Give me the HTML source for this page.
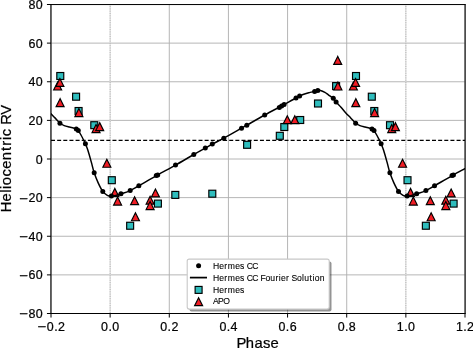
<!DOCTYPE html>
<html><head><meta charset="utf-8"><title>RV curve</title>
<style>html,body{margin:0;padding:0;background:#fff;width:473px;height:348px;overflow:hidden}
body{position:relative}</style></head>
<body>
<svg width="473" height="348" viewBox="0 0 473 348" style="position:absolute;left:0;top:0;will-change:transform">
<defs><clipPath id="ax"><rect x="51.00" y="4.50" width="414.00" height="309.00"/></clipPath></defs>
<path d="M51.00,4.50V313.50M169.29,4.50V313.50M228.43,4.50V313.50M287.57,4.50V313.50M346.71,4.50V313.50M465.00,4.50V313.50M51.00,4.50H465.00M51.00,43.12H465.00M51.00,81.75H465.00M51.00,120.38H465.00M51.00,159.00H465.00M51.00,197.62H465.00M51.00,236.25H465.00M51.00,274.88H465.00M51.00,313.50H465.00" stroke="#b0b0b0" stroke-width="0.93" fill="none"/>
<path d="M110.14,4.50V313.50M405.86,4.50V313.50" stroke="#dcdcdc" stroke-width="1.0" fill="none"/>
<path d="M110.14,4.50V313.50M405.86,4.50V313.50" stroke="#b4b4b4" stroke-width="1.0" stroke-dasharray="1.15 1.15" stroke-dashoffset="0.78" fill="none"/>
<g clip-path="url(#ax)">
<path d="M51.00,140.30H465.00" stroke="#000" stroke-width="1.16" stroke-dasharray="4.0 2.145" fill="none"/>
<rect x="108.32" y="176.72" width="6.96" height="6.96" fill="#2fbdbd" stroke="#000" stroke-width="1.16"/>
<rect x="404.03" y="176.72" width="6.96" height="6.96" fill="#2fbdbd" stroke="#000" stroke-width="1.16"/>
<rect x="126.67" y="222.27" width="6.96" height="6.96" fill="#2fbdbd" stroke="#000" stroke-width="1.16"/>
<rect x="422.38" y="222.27" width="6.96" height="6.96" fill="#2fbdbd" stroke="#000" stroke-width="1.16"/>
<rect x="154.42" y="200.12" width="6.96" height="6.96" fill="#2fbdbd" stroke="#000" stroke-width="1.16"/>
<rect x="450.13" y="200.12" width="6.96" height="6.96" fill="#2fbdbd" stroke="#000" stroke-width="1.16"/>
<rect x="171.82" y="191.42" width="6.96" height="6.96" fill="#2fbdbd" stroke="#000" stroke-width="1.16"/>
<rect x="208.82" y="190.22" width="6.96" height="6.96" fill="#2fbdbd" stroke="#000" stroke-width="1.16"/>
<rect x="243.62" y="141.32" width="6.96" height="6.96" fill="#2fbdbd" stroke="#000" stroke-width="1.16"/>
<rect x="276.32" y="132.32" width="6.96" height="6.96" fill="#2fbdbd" stroke="#000" stroke-width="1.16"/>
<rect x="280.82" y="123.52" width="6.96" height="6.96" fill="#2fbdbd" stroke="#000" stroke-width="1.16"/>
<rect x="296.72" y="116.52" width="6.96" height="6.96" fill="#2fbdbd" stroke="#000" stroke-width="1.16"/>
<rect x="314.52" y="100.02" width="6.96" height="6.96" fill="#2fbdbd" stroke="#000" stroke-width="1.16"/>
<rect x="332.62" y="82.62" width="6.96" height="6.96" fill="#2fbdbd" stroke="#000" stroke-width="1.16"/>
<rect x="56.81" y="72.52" width="6.96" height="6.96" fill="#2fbdbd" stroke="#000" stroke-width="1.16"/>
<rect x="352.52" y="72.52" width="6.96" height="6.96" fill="#2fbdbd" stroke="#000" stroke-width="1.16"/>
<rect x="72.61" y="93.22" width="6.96" height="6.96" fill="#2fbdbd" stroke="#000" stroke-width="1.16"/>
<rect x="368.32" y="93.22" width="6.96" height="6.96" fill="#2fbdbd" stroke="#000" stroke-width="1.16"/>
<rect x="75.11" y="107.52" width="6.96" height="6.96" fill="#2fbdbd" stroke="#000" stroke-width="1.16"/>
<rect x="370.82" y="107.52" width="6.96" height="6.96" fill="#2fbdbd" stroke="#000" stroke-width="1.16"/>
<rect x="90.81" y="121.72" width="6.96" height="6.96" fill="#2fbdbd" stroke="#000" stroke-width="1.16"/>
<rect x="386.52" y="121.72" width="6.96" height="6.96" fill="#2fbdbd" stroke="#000" stroke-width="1.16"/>
<path d="M57.64,82.00L53.64,90.00L61.64,90.00Z" fill="#f01c24" stroke="#000" stroke-width="1.16" stroke-linejoin="miter"/>
<path d="M353.35,82.00L349.35,90.00L357.35,90.00Z" fill="#f01c24" stroke="#000" stroke-width="1.16" stroke-linejoin="miter"/>
<path d="M59.89,78.45L55.89,86.45L63.89,86.45Z" fill="#f01c24" stroke="#000" stroke-width="1.16" stroke-linejoin="miter"/>
<path d="M355.60,78.45L351.60,86.45L359.60,86.45Z" fill="#f01c24" stroke="#000" stroke-width="1.16" stroke-linejoin="miter"/>
<path d="M60.09,98.65L56.09,106.65L64.09,106.65Z" fill="#f01c24" stroke="#000" stroke-width="1.16" stroke-linejoin="miter"/>
<path d="M355.80,98.65L351.80,106.65L359.80,106.65Z" fill="#f01c24" stroke="#000" stroke-width="1.16" stroke-linejoin="miter"/>
<path d="M78.89,108.55L74.89,116.55L82.89,116.55Z" fill="#f01c24" stroke="#000" stroke-width="1.16" stroke-linejoin="miter"/>
<path d="M374.60,108.55L370.60,116.55L378.60,116.55Z" fill="#f01c24" stroke="#000" stroke-width="1.16" stroke-linejoin="miter"/>
<path d="M96.04,124.60L92.04,132.60L100.04,132.60Z" fill="#f01c24" stroke="#000" stroke-width="1.16" stroke-linejoin="miter"/>
<path d="M391.75,124.60L387.75,132.60L395.75,132.60Z" fill="#f01c24" stroke="#000" stroke-width="1.16" stroke-linejoin="miter"/>
<path d="M99.69,122.65L95.69,130.65L103.69,130.65Z" fill="#f01c24" stroke="#000" stroke-width="1.16" stroke-linejoin="miter"/>
<path d="M395.40,122.65L391.40,130.65L399.40,130.65Z" fill="#f01c24" stroke="#000" stroke-width="1.16" stroke-linejoin="miter"/>
<path d="M106.85,159.25L102.85,167.25L110.85,167.25Z" fill="#f01c24" stroke="#000" stroke-width="1.16" stroke-linejoin="miter"/>
<path d="M402.56,159.25L398.56,167.25L406.56,167.25Z" fill="#f01c24" stroke="#000" stroke-width="1.16" stroke-linejoin="miter"/>
<path d="M114.80,188.40L110.80,196.40L118.80,196.40Z" fill="#f01c24" stroke="#000" stroke-width="1.16" stroke-linejoin="miter"/>
<path d="M410.51,188.40L406.51,196.40L414.51,196.40Z" fill="#f01c24" stroke="#000" stroke-width="1.16" stroke-linejoin="miter"/>
<path d="M117.60,197.10L113.60,205.10L121.60,205.10Z" fill="#f01c24" stroke="#000" stroke-width="1.16" stroke-linejoin="miter"/>
<path d="M413.31,197.10L409.31,205.10L417.31,205.10Z" fill="#f01c24" stroke="#000" stroke-width="1.16" stroke-linejoin="miter"/>
<path d="M134.60,196.70L130.60,204.70L138.60,204.70Z" fill="#f01c24" stroke="#000" stroke-width="1.16" stroke-linejoin="miter"/>
<path d="M430.31,196.70L426.31,204.70L434.31,204.70Z" fill="#f01c24" stroke="#000" stroke-width="1.16" stroke-linejoin="miter"/>
<path d="M135.45,212.75L131.45,220.75L139.45,220.75Z" fill="#f01c24" stroke="#000" stroke-width="1.16" stroke-linejoin="miter"/>
<path d="M431.16,212.75L427.16,220.75L435.16,220.75Z" fill="#f01c24" stroke="#000" stroke-width="1.16" stroke-linejoin="miter"/>
<path d="M155.45,188.95L151.45,196.95L159.45,196.95Z" fill="#f01c24" stroke="#000" stroke-width="1.16" stroke-linejoin="miter"/>
<path d="M451.16,188.95L447.16,196.95L455.16,196.95Z" fill="#f01c24" stroke="#000" stroke-width="1.16" stroke-linejoin="miter"/>
<path d="M150.10,196.20L146.10,204.20L154.10,204.20Z" fill="#f01c24" stroke="#000" stroke-width="1.16" stroke-linejoin="miter"/>
<path d="M445.81,196.20L441.81,204.20L449.81,204.20Z" fill="#f01c24" stroke="#000" stroke-width="1.16" stroke-linejoin="miter"/>
<path d="M150.10,201.60L146.10,209.60L154.10,209.60Z" fill="#f01c24" stroke="#000" stroke-width="1.16" stroke-linejoin="miter"/>
<path d="M445.81,201.60L441.81,209.60L449.81,209.60Z" fill="#f01c24" stroke="#000" stroke-width="1.16" stroke-linejoin="miter"/>
<path d="M287.30,115.70L283.30,123.70L291.30,123.70Z" fill="#f01c24" stroke="#000" stroke-width="1.16" stroke-linejoin="miter"/>
<path d="M294.80,115.70L290.80,123.70L298.80,123.70Z" fill="#f01c24" stroke="#000" stroke-width="1.16" stroke-linejoin="miter"/>
<path d="M337.70,56.40L333.70,64.40L341.70,64.40Z" fill="#f01c24" stroke="#000" stroke-width="1.16" stroke-linejoin="miter"/>
<path d="M337.90,82.00L333.90,90.00L341.90,90.00Z" fill="#f01c24" stroke="#000" stroke-width="1.16" stroke-linejoin="miter"/>
<circle cx="111.40" cy="196.10" r="2.5" fill="#000"/>
<circle cx="407.11" cy="196.10" r="2.5" fill="#000"/>
<circle cx="120.95" cy="193.85" r="2.5" fill="#000"/>
<circle cx="416.66" cy="193.85" r="2.5" fill="#000"/>
<circle cx="130.20" cy="190.60" r="2.5" fill="#000"/>
<circle cx="425.91" cy="190.60" r="2.5" fill="#000"/>
<circle cx="138.85" cy="185.75" r="2.5" fill="#000"/>
<circle cx="434.56" cy="185.75" r="2.5" fill="#000"/>
<circle cx="156.30" cy="175.60" r="2.5" fill="#000"/>
<circle cx="452.01" cy="175.60" r="2.5" fill="#000"/>
<circle cx="157.70" cy="175.00" r="2.5" fill="#000"/>
<circle cx="453.41" cy="175.00" r="2.5" fill="#000"/>
<circle cx="175.50" cy="165.10" r="2.5" fill="#000"/>
<circle cx="193.80" cy="154.50" r="2.5" fill="#000"/>
<circle cx="205.30" cy="148.10" r="2.5" fill="#000"/>
<circle cx="212.30" cy="144.10" r="2.5" fill="#000"/>
<circle cx="223.80" cy="138.20" r="2.5" fill="#000"/>
<circle cx="241.50" cy="128.20" r="2.5" fill="#000"/>
<circle cx="246.80" cy="125.20" r="2.5" fill="#000"/>
<circle cx="264.70" cy="115.10" r="2.5" fill="#000"/>
<circle cx="279.30" cy="107.40" r="2.5" fill="#000"/>
<circle cx="281.60" cy="106.00" r="2.5" fill="#000"/>
<circle cx="284.10" cy="104.40" r="2.5" fill="#000"/>
<circle cx="296.00" cy="98.00" r="2.5" fill="#000"/>
<circle cx="299.60" cy="96.10" r="2.5" fill="#000"/>
<circle cx="314.60" cy="91.45" r="2.5" fill="#000"/>
<circle cx="317.80" cy="90.40" r="2.5" fill="#000"/>
<circle cx="333.30" cy="98.20" r="2.5" fill="#000"/>
<circle cx="336.10" cy="102.10" r="2.5" fill="#000"/>
<circle cx="59.94" cy="123.20" r="2.5" fill="#000"/>
<circle cx="355.65" cy="123.20" r="2.5" fill="#000"/>
<circle cx="76.29" cy="129.10" r="2.5" fill="#000"/>
<circle cx="372.00" cy="129.10" r="2.5" fill="#000"/>
<circle cx="78.29" cy="130.60" r="2.5" fill="#000"/>
<circle cx="374.00" cy="130.60" r="2.5" fill="#000"/>
<circle cx="85.39" cy="143.80" r="2.5" fill="#000"/>
<circle cx="381.10" cy="143.80" r="2.5" fill="#000"/>
<circle cx="94.19" cy="172.80" r="2.5" fill="#000"/>
<circle cx="389.90" cy="172.80" r="2.5" fill="#000"/>
<circle cx="102.79" cy="191.40" r="2.5" fill="#000"/>
<circle cx="398.50" cy="191.40" r="2.5" fill="#000"/>
<path d="M22.09,90.50 C22.54,90.48 23.60,90.10 24.79,90.40 C25.97,90.70 27.87,91.55 29.19,92.30 C30.50,93.05 31.29,93.85 32.69,94.90 C34.09,95.95 36.30,97.40 37.59,98.60 C38.87,99.80 39.10,100.65 40.39,102.10 C41.67,103.55 43.70,105.53 45.29,107.30 C46.87,109.07 48.27,110.93 49.89,112.70 C51.50,114.47 53.30,116.18 54.99,117.90 C56.67,119.62 58.45,121.72 59.99,123.00 C61.52,124.28 62.62,124.92 64.19,125.60 C65.75,126.28 67.85,126.70 69.39,127.10 C70.92,127.50 72.24,127.65 73.39,128.00 C74.54,128.35 75.47,128.73 76.29,129.20 C77.10,129.67 77.50,129.83 78.29,130.80 C79.07,131.77 80.07,133.40 80.99,135.00 C81.90,136.60 83.05,138.93 83.79,140.40 C84.52,141.87 84.70,142.15 85.39,143.80 C86.07,145.45 86.89,147.20 87.89,150.30 C88.89,153.40 90.34,158.65 91.39,162.40 C92.44,166.15 93.04,169.35 94.19,172.80 C95.34,176.25 96.85,180.00 98.29,183.10 C99.72,186.20 101.28,189.37 102.79,191.40 C104.29,193.43 105.86,194.52 107.30,195.30 C108.74,196.08 109.97,196.08 111.40,196.10 C112.83,196.12 114.31,195.78 115.90,195.40 C117.49,195.03 118.57,194.65 120.95,193.85 C123.33,193.05 127.22,191.95 130.20,190.60 C133.18,189.25 134.38,188.30 138.85,185.75 C143.32,183.20 150.89,178.74 157.00,175.30 C163.11,171.86 169.37,168.57 175.50,165.10 C181.63,161.63 188.83,157.33 193.80,154.50 C198.77,151.67 202.22,149.83 205.30,148.10 C208.38,146.37 209.22,145.75 212.30,144.10 C215.38,142.45 218.93,140.85 223.80,138.20 C228.67,135.55 237.67,130.37 241.50,128.20 C245.33,126.03 242.93,127.40 246.80,125.20 C250.67,123.00 258.90,118.22 264.70,115.00 C270.50,111.78 276.38,108.73 281.60,105.90 C286.82,103.07 292.43,99.90 296.00,98.00 C299.57,96.10 300.67,95.43 303.00,94.50 C305.33,93.57 308.07,92.93 310.00,92.40 C311.93,91.87 313.30,91.62 314.60,91.30 C315.90,90.98 316.82,90.65 317.80,90.50 C318.78,90.35 319.32,90.10 320.50,90.40 C321.68,90.70 323.58,91.55 324.90,92.30 C326.22,93.05 327.00,93.85 328.40,94.90 C329.80,95.95 332.02,97.40 333.30,98.60 C334.58,99.80 334.82,100.65 336.10,102.10 C337.38,103.55 339.42,105.53 341.00,107.30 C342.58,109.07 343.98,110.93 345.60,112.70 C347.22,114.47 349.02,116.18 350.70,117.90 C352.38,119.62 354.17,121.72 355.70,123.00 C357.23,124.28 358.33,124.92 359.90,125.60 C361.47,126.28 363.57,126.70 365.10,127.10 C366.63,127.50 367.95,127.65 369.10,128.00 C370.25,128.35 371.18,128.73 372.00,129.20 C372.82,129.67 373.22,129.83 374.00,130.80 C374.78,131.77 375.78,133.40 376.70,135.00 C377.62,136.60 378.77,138.93 379.50,140.40 C380.23,141.87 380.42,142.15 381.10,143.80 C381.78,145.45 382.60,147.20 383.60,150.30 C384.60,153.40 386.05,158.65 387.10,162.40 C388.15,166.15 388.75,169.35 389.90,172.80 C391.05,176.25 392.57,180.00 394.00,183.10 C395.43,186.20 397.00,189.37 398.50,191.40 C400.00,193.43 401.58,194.52 403.01,195.30 C404.45,196.08 405.68,196.08 407.11,196.10 C408.55,196.12 410.02,195.78 411.61,195.40 C413.21,195.03 414.28,194.65 416.66,193.85 C419.05,193.05 422.93,191.95 425.91,190.60 C428.90,189.25 430.10,188.30 434.56,185.75 C439.03,183.20 446.61,178.74 452.71,175.30 C458.82,171.86 465.08,168.57 471.21,165.10 C477.35,161.63 486.46,156.27 489.51,154.50" stroke="#000" stroke-width="1.5" fill="none" stroke-linejoin="round" stroke-linecap="butt"/>
</g>
<path d="M50.95,4.50V313.50M465.10,4.50V313.50" fill="none" stroke="#000" stroke-width="1.1" stroke-linecap="square"/>
<path d="M51.00,4.55H465.00M51.00,313.50H465.00" fill="none" stroke="#000" stroke-width="1.0" stroke-linecap="square"/>
<path d="M51.00,313.50V317.56M110.14,313.50V317.56M169.29,313.50V317.56M228.43,313.50V317.56M287.57,313.50V317.56M346.71,313.50V317.56M405.86,313.50V317.56M465.00,313.50V317.56M51.00,4.50H46.94M51.00,43.12H46.94M51.00,81.75H46.94M51.00,120.38H46.94M51.00,159.00H46.94M51.00,197.62H46.94M51.00,236.25H46.94M51.00,274.88H46.94M51.00,313.50H46.94" stroke="#000" stroke-width="1.0" fill="none"/>
<rect x="189.50" y="261.40" width="142.00" height="50.00" rx="2" fill="#000" fill-opacity="0.42"/>
<rect x="187.20" y="259.10" width="142.00" height="50.00" rx="2" fill="#fff" stroke="#c8c8c8" stroke-width="1.1"/>
<circle cx="198.60" cy="265.8" r="2.5" fill="#000"/>
<path d="M189.9,277.6H207" stroke="#000" stroke-width="1.74"/>
<rect x="195.12" y="286.42" width="6.96" height="6.96" fill="#2fbdbd" stroke="#000" stroke-width="1.16"/>
<path d="M198.60,297.70L194.60,305.70L202.60,305.70Z" fill="#f01c24" stroke="#000" stroke-width="1.16"/>
<text x="212.94 219.19 224.31 227.77 235.25 240.10 244.45 246.65 252.31" y="268.80" style="font-family:'Liberation Sans',sans-serif;font-size:8.60px" stroke="#000" stroke-width="0.10">Hermes CC</text>
<text x="212.94 219.19 224.31 227.77 235.25 240.10 244.45 246.65 252.31 258.34 260.52 265.56 270.32 275.51 278.78 280.96 286.07 289.26 291.45 296.97 302.01 304.27 309.62 312.57 314.74 319.79" y="280.60" style="font-family:'Liberation Sans',sans-serif;font-size:8.60px" stroke="#000" stroke-width="0.10">Hermes CC Fourier Solution</text>
<text x="212.94 219.19 224.31 227.77 235.25 240.10" y="292.70" style="font-family:'Liberation Sans',sans-serif;font-size:8.60px" stroke="#000" stroke-width="0.10">Hermes</text>
<text x="212.90 218.12 223.27" y="304.20" style="font-family:'Liberation Sans',sans-serif;font-size:8.60px" stroke="#000" stroke-width="0.10">APO</text>
<text x="0" y="0" transform="translate(41.73,331.08) scale(1.206,1)" style="font-family:'Liberation Sans',sans-serif;font-size:12.45px" text-anchor="middle" stroke="#000" stroke-width="0.22">−</text>
<text x="46.86 54.16 57.99" y="330.60" style="font-family:'Liberation Sans',sans-serif;font-size:12.45px" stroke="#000" stroke-width="0.22">0.2</text>
<text x="101.12 108.41 112.24" y="330.60" style="font-family:'Liberation Sans',sans-serif;font-size:12.45px" stroke="#000" stroke-width="0.22">0.0</text>
<text x="160.26 167.56 171.39" y="330.60" style="font-family:'Liberation Sans',sans-serif;font-size:12.45px" stroke="#000" stroke-width="0.22">0.2</text>
<text x="219.40 226.70 230.53" y="330.60" style="font-family:'Liberation Sans',sans-serif;font-size:12.45px" stroke="#000" stroke-width="0.22">0.4</text>
<text x="278.55 285.84 289.67" y="330.60" style="font-family:'Liberation Sans',sans-serif;font-size:12.45px" stroke="#000" stroke-width="0.22">0.6</text>
<text x="337.69 344.98 348.81" y="330.60" style="font-family:'Liberation Sans',sans-serif;font-size:12.45px" stroke="#000" stroke-width="0.22">0.8</text>
<text x="396.83 404.13 407.96" y="330.60" style="font-family:'Liberation Sans',sans-serif;font-size:12.45px" stroke="#000" stroke-width="0.22">1.0</text>
<text x="455.98 463.27 467.10" y="330.60" style="font-family:'Liberation Sans',sans-serif;font-size:12.45px" stroke="#000" stroke-width="0.22">1.2</text>
<text x="28.41 35.83" y="9.00" style="font-family:'Liberation Sans',sans-serif;font-size:12.45px" stroke="#000" stroke-width="0.22">80</text>
<text x="28.41 35.83" y="47.62" style="font-family:'Liberation Sans',sans-serif;font-size:12.45px" stroke="#000" stroke-width="0.22">60</text>
<text x="28.41 35.83" y="86.25" style="font-family:'Liberation Sans',sans-serif;font-size:12.45px" stroke="#000" stroke-width="0.22">40</text>
<text x="28.41 35.83" y="124.88" style="font-family:'Liberation Sans',sans-serif;font-size:12.45px" stroke="#000" stroke-width="0.22">20</text>
<text x="35.83" y="163.50" style="font-family:'Liberation Sans',sans-serif;font-size:12.45px" stroke="#000" stroke-width="0.22">0</text>
<text x="0" y="0" transform="translate(23.28,202.61) scale(1.206,1)" style="font-family:'Liberation Sans',sans-serif;font-size:12.45px" text-anchor="middle" stroke="#000" stroke-width="0.22">−</text>
<text x="28.41 35.83" y="202.12" style="font-family:'Liberation Sans',sans-serif;font-size:12.45px" stroke="#000" stroke-width="0.22">20</text>
<text x="0" y="0" transform="translate(23.28,241.23) scale(1.206,1)" style="font-family:'Liberation Sans',sans-serif;font-size:12.45px" text-anchor="middle" stroke="#000" stroke-width="0.22">−</text>
<text x="28.41 35.83" y="240.75" style="font-family:'Liberation Sans',sans-serif;font-size:12.45px" stroke="#000" stroke-width="0.22">40</text>
<text x="0" y="0" transform="translate(23.28,279.86) scale(1.206,1)" style="font-family:'Liberation Sans',sans-serif;font-size:12.45px" text-anchor="middle" stroke="#000" stroke-width="0.22">−</text>
<text x="28.41 35.83" y="279.38" style="font-family:'Liberation Sans',sans-serif;font-size:12.45px" stroke="#000" stroke-width="0.22">60</text>
<text x="0" y="0" transform="translate(23.28,318.48) scale(1.206,1)" style="font-family:'Liberation Sans',sans-serif;font-size:12.45px" text-anchor="middle" stroke="#000" stroke-width="0.22">−</text>
<text x="28.41 35.83" y="318.00" style="font-family:'Liberation Sans',sans-serif;font-size:12.45px" stroke="#000" stroke-width="0.22">80</text>
<text x="236.38 245.86 254.59 262.94 270.48" y="347.80" style="font-family:'Liberation Sans',sans-serif;font-size:14.80px" stroke="#000" stroke-width="0.22">Phase</text>
<text x="-53.33 -42.53 -33.80 -29.91 -26.16 -17.61 -9.87 -1.13 8.11 13.33 18.97 22.71 30.43 34.23 44.29" y="0.00" style="font-family:'Liberation Sans',sans-serif;font-size:14.80px" stroke="#000" stroke-width="0.22" transform="translate(10.8,159.0) rotate(-90)">Heliocentric RV</text>
</svg>
</body></html>
